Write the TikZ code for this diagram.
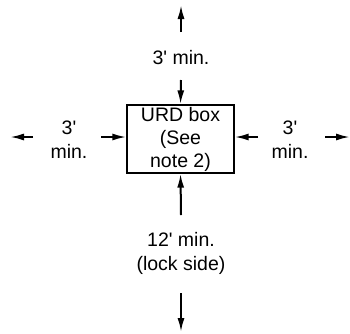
\documentclass[tikz,border=0pt]{standalone}
\usepackage{fontspec}
\setmainfont{Liberation Sans}[Ligatures=TeXOff]
\usetikzlibrary{arrows.meta}
\begin{document}
\begin{tikzpicture}[x=1pt,y=-1pt]

\def\cx{181}
\def\ay{137}

\tikzset{box/.style = {draw, line width=1.3pt, minimum width=107pt, minimum height=68pt, inner sep=0pt, align=center, font=\fontsize{19.5}{23}\selectfont}}
\tikzset{lbl/.style = {align=center, inner sep=0pt, font=\fontsize{19.5}{24}\selectfont}}
\tikzset{dim/.style = {line width=2pt, -{Latex[length=14pt,width=7pt]}}}

\useasboundingbox (0,0) rectangle (350,333);

\node[box] (URD) at (180.5,139) {URD box\\(See\\note 2)};

% top
\node[lbl] (T) at (\cx,58) {3' min.};
\coordinate (T1) at (\cx,32);
\coordinate (T2) at (\cx,5);
\coordinate (T3) at (\cx,80);
\draw[dim] (T1) -- (T2);
\draw[dim] (T3) -- (URD.north);

% left
\node[lbl] (L) at (69,140) {3'\\min.};
\coordinate (L1) at (33,\ay);
\coordinate (L2) at (10,\ay);
\coordinate (L3) at (101,\ay);
\draw[dim] (L1) -- (L2);
\draw[dim] (L3) -- (L3 -| URD.west);

% right
\node[lbl] (R) at (290,140) {3'\\min.};
\coordinate (R1) at (325,\ay);
\coordinate (R2) at (350,\ay);
\coordinate (R3) at (258,\ay);
\draw[dim] (R1) -- (R2);
\draw[dim] (R3) -- (R3 -| URD.east);

% bottom
\node[lbl] (B) at (\cx,253) {12' min.\\(lock side)};
\coordinate (B1) at (\cx,215);
\coordinate (B2) at (\cx,293);
\coordinate (B3) at (\cx,332);
\draw[dim] (B1) -- (URD.south);
\draw[dim] (B2) -- (B3);

\end{tikzpicture}
\end{document}
